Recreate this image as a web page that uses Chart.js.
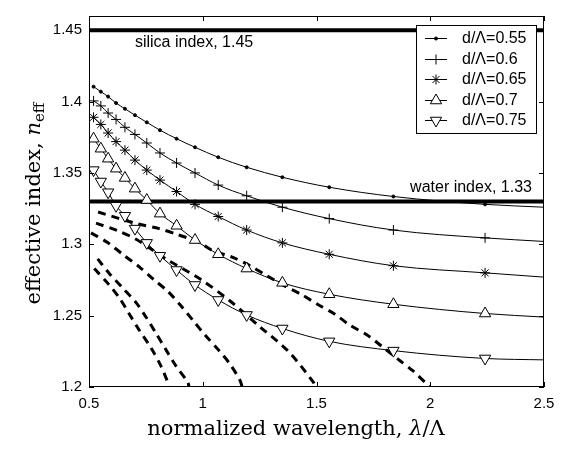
<!DOCTYPE html>
<html lang="en">
<head>
<meta charset="utf-8">
<script src="https://cdn.jsdelivr.net/npm/chart.js@4.4.0/dist/chart.umd.min.js"></script>
<style>
  html, body { margin: 0; padding: 0; background: #fff; }
  #wrap { width: 565px; height: 450px; position: relative; }
</style>
</head>
<body>
<div id="wrap"><canvas id="chart"></canvas></div>
<script>
// axis ticks
const xTicks = [0.5, 1, 1.5, 2, 2.5];
const yTicks = [1.2, 1.25, 1.3, 1.35, 1.4, 1.45];

// shared wavelength samples (last one is the line end, no marker)
const xPts = [0.52, 0.552, 0.584, 0.619, 0.658, 0.702, 0.754, 0.812, 0.885, 0.966, 1.068, 1.193, 1.35, 1.556, 1.838, 2.241, 2.5];

// effective index per hole size
const n055 = [1.4105, 1.407, 1.4035, 1.399, 1.395, 1.3905, 1.3855, 1.380, 1.374, 1.368, 1.361, 1.354, 1.347, 1.340, 1.3335, 1.328, 1.326];
const n060 = [1.4005, 1.397, 1.392, 1.3875, 1.382, 1.377, 1.371, 1.364, 1.357, 1.350, 1.3415, 1.334, 1.326, 1.318, 1.310, 1.3045, 1.302];
const n065 = [1.389, 1.384, 1.378, 1.372, 1.366, 1.359, 1.352, 1.345, 1.337, 1.328, 1.3195, 1.310, 1.301, 1.293, 1.285, 1.280, 1.277];
const n070 = [1.374, 1.367, 1.360, 1.353, 1.3465, 1.339, 1.331, 1.3215, 1.313, 1.303, 1.293, 1.283, 1.273, 1.265, 1.258, 1.2515, 1.249];
const n075 = [1.352, 1.344, 1.3365, 1.327, 1.320, 1.311, 1.301, 1.292, 1.282, 1.2715, 1.261, 1.2505, 1.241, 1.232, 1.2255, 1.220, 1.219];
const seriesLabels = ['d/\u039B=0.55', 'd/\u039B=0.6', 'd/\u039B=0.65', 'd/\u039B=0.7', 'd/\u039B=0.75'];

// dashed curves
const dashX1 = [0.54, 0.714, 0.808, 0.887, 0.975, 1.045, 1.129, 1.208, 1.282, 1.353, 1.436, 1.506, 1.581, 1.646, 1.721, 1.788, 1.858, 1.923, 1.999];
const dashY1 = [1.3226, 1.3143, 1.311, 1.3069, 1.302, 1.2955, 1.291, 1.285, 1.278, 1.2714, 1.2646, 1.2578, 1.251, 1.2434, 1.2366, 1.2284, 1.2195, 1.2114, 1.2];
const dashX2 = [0.531, 0.626, 0.707, 0.838, 0.995, 1.120, 1.252, 1.376, 1.486, 1.493];
const dashY2 = [1.3148, 1.3096, 1.3035, 1.2898, 1.275, 1.2603, 1.2421, 1.225, 1.2034, 1.2];
const dashX3 = [0.509, 0.582, 0.655, 0.721, 0.787, 0.846, 0.904, 0.963, 1.010, 1.068, 1.120, 1.164, 1.173];
const dashY3 = [1.308, 1.3012, 1.2921, 1.2842, 1.275, 1.2671, 1.2569, 1.2455, 1.2364, 1.2262, 1.216, 1.2046, 1.2];
const dashX4 = [0.538, 0.589, 0.648, 0.707, 0.751, 0.795, 0.838, 0.882, 0.934, 0.94];
const dashY4 = [1.2898, 1.2796, 1.2694, 1.2591, 1.2489, 1.2375, 1.2262, 1.2148, 1.2034, 1.2];
const dashX5 = [0.523, 0.582, 0.633, 0.677, 0.721, 0.773, 0.816, 0.846, 0.852];
const dashY5 = [1.283, 1.2728, 1.2625, 1.2512, 1.2398, 1.2273, 1.2148, 1.2034, 1.2];

// reference indices
const silicaIndex = 1.45;
const waterIndex = 1.33;
const notes = [
  { text: 'silica index, 1.45', x: 0.702, y: 1.4412, align: 'left' },
  { text: 'water index, 1.33', x: 2.447, y: 1.3396, align: 'right' },
];

const SANS = '"Liberation Sans", Arial, sans-serif';
const SERIF = '"DejaVu Serif", serif';

function pts(xs, ys) {
  return xs.map((x, i) => ({ x, y: ys[i] }));
}

function markerRadius(r) {
  return xPts.map((_, i) => (i === xPts.length - 1 ? 0 : r));
}

function series(label, ys, style, r, rotation, fill) {
  return {
    label,
    data: pts(xPts, ys),
    borderColor: '#000',
    borderWidth: 1,
    backgroundColor: fill,
    pointStyle: style,
    pointRadius: markerRadius(r),
    pointRotation: rotation,
    pointBorderWidth: 1,
    pointBorderColor: '#000',
    pointBackgroundColor: fill,
    cubicInterpolationMode: 'monotone',
    fill: false,
    isSeries: true,
  };
}

function dashed(xs, ys) {
  return {
    data: pts(xs, ys),
    borderColor: '#000',
    borderWidth: 3,
    borderDash: [8, 6],
    pointRadius: 0,
    tension: 0.3,
    fill: false,
  };
}

function hline(v) {
  return {
    data: [{ x: xTicks[0], y: v }, { x: xTicks[xTicks.length - 1], y: v }],
    borderColor: '#000',
    borderWidth: 4,
    pointRadius: 0,
    fill: false,
  };
}

const datasets = [
  series(seriesLabels[0], n055, 'circle', 1.5, 0, '#000'),
  series(seriesLabels[1], n060, 'cross', 5, 0, '#000'),
  series(seriesLabels[2], n065, 'star', 5, 0, '#000'),
  series(seriesLabels[3], n070, 'triangle', 6.5, 0, '#fff'),
  series(seriesLabels[4], n075, 'triangle', 6.5, 180, '#fff'),
  dashed(dashX1, dashY1),
  dashed(dashX2, dashY2),
  dashed(dashX3, dashY3),
  dashed(dashX4, dashY4),
  dashed(dashX5, dashY5),
  hline(silicaIndex),
  hline(waterIndex),
];

function drawParts(ctx, parts, cx, baseline) {
  let total = 0;
  parts.forEach(p => { ctx.font = p.font; p.w = ctx.measureText(p.text).width; total += p.w; });
  let x = cx - total / 2;
  parts.forEach(p => {
    ctx.font = p.font;
    ctx.fillText(p.text, x, baseline + (p.dy || 0));
    x += p.w;
  });
}

const framePlugin = {
  id: 'frame',
  afterDraw(chart) {
    const { ctx, chartArea: a, scales: { x, y } } = chart;
    ctx.save();
    ctx.strokeStyle = '#000';
    ctx.fillStyle = '#000';
    ctx.lineWidth = 1;

    // box and inward ticks on all sides
    ctx.strokeRect(a.left + 0.5, a.top + 0.5, a.right - a.left - 1, a.bottom - a.top - 1);
    ctx.beginPath();
    xTicks.forEach(v => {
      const px = Math.round(x.getPixelForValue(v)) + 0.5;
      ctx.moveTo(px, a.bottom); ctx.lineTo(px, a.bottom - 5);
      ctx.moveTo(px, a.top); ctx.lineTo(px, a.top + 5);
    });
    yTicks.forEach(v => {
      const py = Math.round(y.getPixelForValue(v)) + 0.5;
      ctx.moveTo(a.left, py); ctx.lineTo(a.left + 5, py);
      ctx.moveTo(a.right, py); ctx.lineTo(a.right - 5, py);
    });
    ctx.stroke();

    // text notes
    ctx.font = '16px ' + SANS;
    ctx.textBaseline = 'middle';
    notes.forEach(n => {
      ctx.textAlign = n.align;
      ctx.fillText(n.text, x.getPixelForValue(n.x), y.getPixelForValue(n.y));
    });

    // legend box
    const bx = a.right - 128, by = a.top + 9, bw = 120, bh = 108;
    ctx.fillStyle = '#fff';
    ctx.fillRect(bx, by, bw, bh);
    ctx.strokeRect(bx + 0.5, by + 0.5, bw, bh);
    ctx.fillStyle = '#000';
    ctx.textAlign = 'left';
    chart.data.datasets.filter(d => d.isSeries).forEach((d, i) => {
      const ry = Math.round(by + 13 + i * 20.5) + 0.5;
      ctx.beginPath();
      ctx.lineWidth = 1;
      ctx.moveTo(bx + 9, ry); ctx.lineTo(bx + 31, ry);
      ctx.stroke();
      ctx.fillStyle = d.pointBackgroundColor;
      Chart.helpers.drawPoint(ctx, {
        pointStyle: d.pointStyle,
        radius: d.pointRadius[0],
        rotation: d.pointRotation,
        borderWidth: 1,
      }, bx + 20, ry);
      ctx.fillStyle = '#000';
      ctx.font = '16px ' + SANS;
      ctx.fillText(d.label, bx + 46, ry);
    });

    // axis titles
    ctx.textAlign = 'left';
    ctx.textBaseline = 'alphabetic';
    drawParts(ctx, [
      { text: 'normalized wavelength, ', font: '21px ' + SERIF },
      { text: '\u03BB', font: 'italic 21px ' + SERIF },
      { text: '/\u039B', font: '21px ' + SERIF },
    ], 296, 435);

    ctx.translate(40, (a.top + a.bottom) / 2 + 2);
    ctx.rotate(-Math.PI / 2);
    drawParts(ctx, [
      { text: 'effective index, ', font: '21px ' + SERIF },
      { text: 'n', font: 'italic 21px ' + SERIF },
      { text: 'eff', font: '15px ' + SERIF, dy: 4 },
    ], 0, 0);
    ctx.restore();
  },
};

new Chart(document.getElementById('chart'), {
  type: 'line',
  data: { datasets },
  options: {
    responsive: true,
    maintainAspectRatio: false,
    animation: false,
    devicePixelRatio: 1,
    events: [],
    layout: { padding: { left: 0, top: 4, right: 21, bottom: 0 } },
    plugins: { legend: { display: false }, tooltip: { enabled: false } },
    scales: {
      x: {
        type: 'linear',
        min: xTicks[0],
        max: xTicks[xTicks.length - 1],
        grid: { display: false, drawTicks: false },
        border: { display: false },
        afterBuildTicks: s => { s.ticks = xTicks.map(v => ({ value: v })); },
        afterFit: s => { s.height = 63; },
        ticks: {
          color: '#000',
          font: { family: SANS, size: 15 },
          padding: 8,
          maxRotation: 0,
          autoSkip: false,
          callback: v => String(v),
        },
      },
      y: {
        type: 'linear',
        min: 1.2,
        max: 1.46,
        grid: { display: false, drawTicks: false },
        border: { display: false },
        afterBuildTicks: s => { s.ticks = yTicks.map(v => ({ value: v })); },
        afterFit: s => { s.width = 89; },
        ticks: {
          color: '#000',
          font: { family: SANS, size: 15 },
          padding: 7,
          autoSkip: false,
          callback: v => String(v),
        },
      },
    },
  },
  plugins: [framePlugin],
});
</script>
</body>
</html>
